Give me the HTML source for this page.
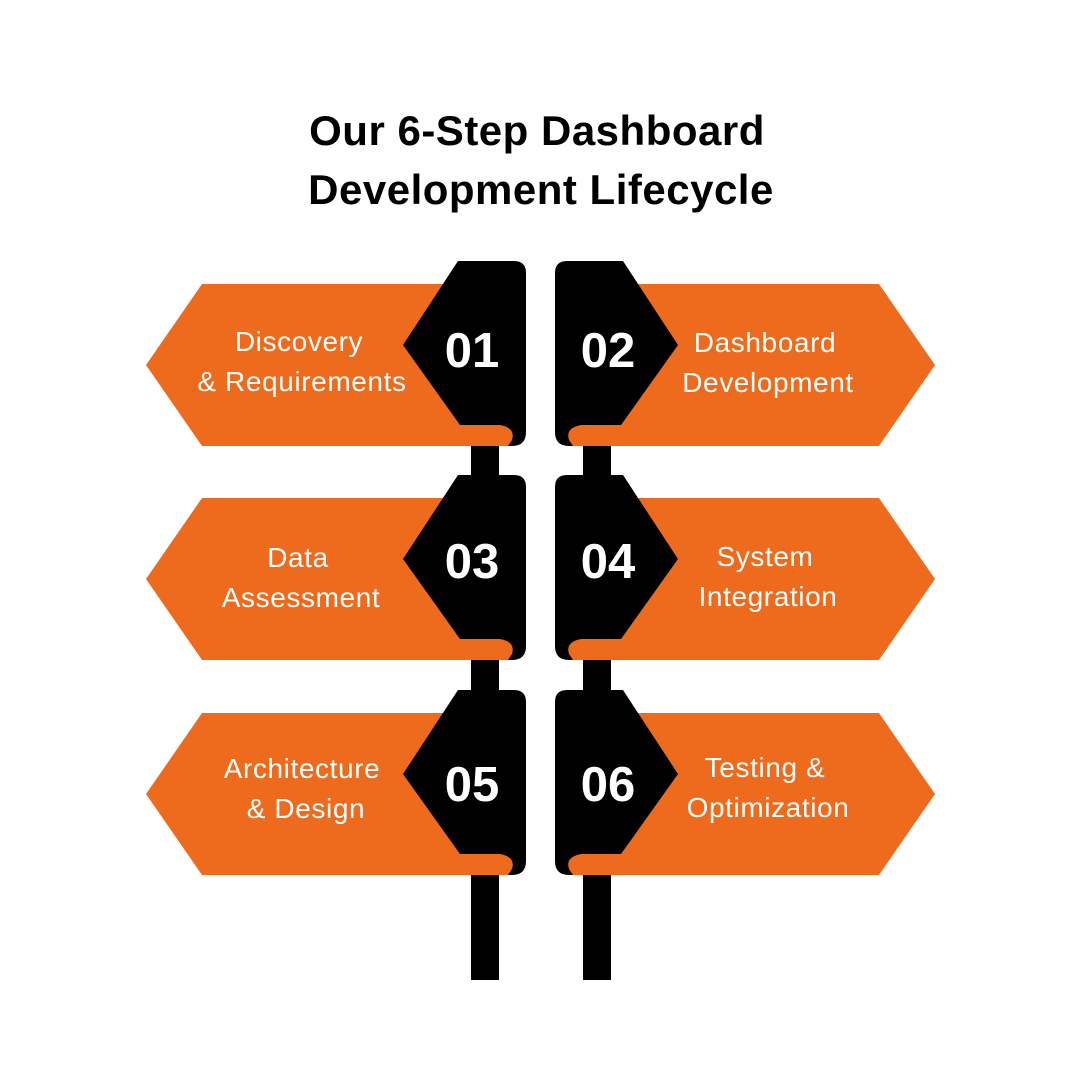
<!DOCTYPE html>
<html><head><style>
body{margin:0;background:#fff;}
svg{display:block}
</style></head><body>
<svg width="1080" height="1080" viewBox="0 0 1080 1080" xmlns="http://www.w3.org/2000/svg">
<defs>
<g id="L">
  <polygon points="146,365 202,284 460,284 460,446 202,446" fill="#ee6a1d"/>
  <path d="M458,261 L514,261 Q526,261 526,273 L526,432 Q526,446 512,446 L465,446 L460,425 L403,345 Z" fill="#000"/>
  <path d="M460,425 L500,425 Q516,428 512,440 L508,446 L460,446 Z" fill="#ee6a1d"/>
</g>
</defs>
<rect x="471" y="446" width="28" height="534" fill="#000"/>
<rect x="583" y="446" width="28" height="534" fill="#000"/>
<g><use href="#L"/><use href="#L" transform="translate(1081,0) scale(-1,1)"/></g>
<g transform="translate(0,214)"><use href="#L"/><use href="#L" transform="translate(1081,0) scale(-1,1)"/></g>
<g transform="translate(0,429)"><use href="#L"/><use href="#L" transform="translate(1081,0) scale(-1,1)"/></g>
<g font-family="Liberation Sans, sans-serif" text-anchor="middle">
  <text x="537" y="145" font-size="42" font-weight="bold" letter-spacing="0.5">Our 6-Step Dashboard</text>
  <text x="541" y="204" font-size="42" font-weight="bold" letter-spacing="0.5">Development Lifecycle</text>
  <g fill="#fff" font-size="49" font-weight="bold">
    <text x="472" y="367">01</text><text x="608" y="367">02</text>
    <text x="472" y="578">03</text><text x="608" y="578">04</text>
    <text x="472" y="801">05</text><text x="608" y="801">06</text>
  </g>
  <g fill="#fff" font-size="28" letter-spacing="0.6">
    <text x="299" y="351">Discovery</text><text x="302" y="391">&amp; Requirements</text>
    <text x="765" y="352">Dashboard</text><text x="768" y="392">Development</text>
    <text x="298" y="567">Data</text><text x="301" y="607">Assessment</text>
    <text x="765" y="566">System</text><text x="768" y="606">Integration</text>
    <text x="302" y="778">Architecture</text><text x="306" y="818">&amp; Design</text>
    <text x="765" y="777">Testing &amp;</text><text x="768" y="817">Optimization</text>
  </g>
</g>
</svg>
</body></html>
